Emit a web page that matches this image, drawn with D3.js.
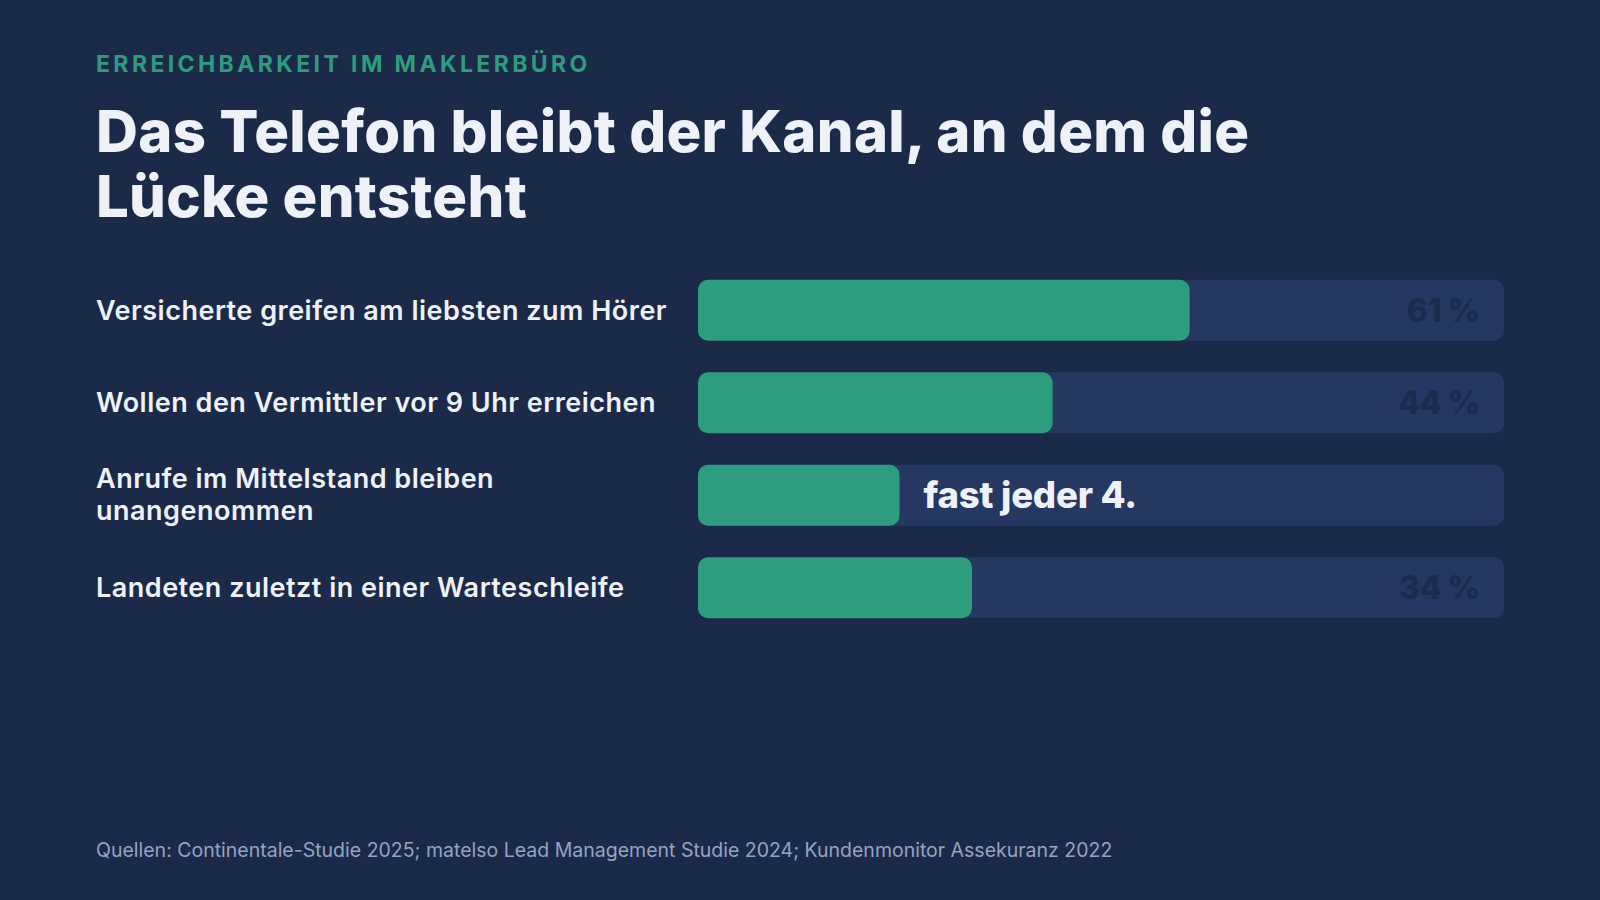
<!DOCTYPE html>
<html>
<head>
<meta charset="utf-8">
<script src="https://cdn.jsdelivr.net/npm/d3@7"></script>
<style>
  html, body { margin: 0; padding: 0; background: #1c2a4a; }
  svg { display: block; }
  text { font-family: Inter, "Noto Sans", sans-serif; }
</style>
</head>
<body>
<svg id="chart" width="1600" height="900"></svg>
<script>
// data
const labels = [
  ["Versicherte greifen am liebsten zum Hörer"],
  ["Wollen den Vermittler vor 9 Uhr erreichen"],
  ["Anrufe im Mittelstand bleiben", "unangenommen"],
  ["Landeten zuletzt in einer Warteschleife"]
];
const values = [61, 44, 25, 34];
const valueTexts = ["61 %", "44 %", "fast jeder 4.", "34 %"];
const highlight = [false, false, true, false];

const kicker = "ERREICHBARKEIT IM MAKLERBÜRO";
const titleLines = ["Das Telefon bleibt der Kanal, an dem die", "Lücke entsteht"];
const source = "Quellen: Continentale-Studie 2025; matelso Lead Management Studie 2024; Kundenmonitor Assekuranz 2022";

const green = "#2e9c7e", track = "#263761", bg = "#1c2a4a", ink = "#eef2f8";

const svg = d3.select("#chart");
svg.append("rect").attr("width", 1600).attr("height", 900).attr("fill", bg);

svg.append("text")
    .attr("x", 96).attr("y", 72)
    .attr("fill", green)
    .attr("font-size", 23).attr("font-weight", 700)
    .attr("letter-spacing", 3.4)
    .text(kicker);

svg.append("g").selectAll("text")
    .data(titleLines)
    .join("text")
    .attr("x", 96)
    .attr("y", (d, i) => 152 + i * 65)
    .attr("fill", ink)
    .attr("font-size", 58).attr("font-weight", 800)
    .attr("letter-spacing", 0.3)
    .text(d => d);

const x = d3.scaleLinear().domain([0, 100]).range([698, 1504]);
const y = d3.scaleBand().domain(d3.range(values.length)).range([264, 634]).paddingInner(0.34).paddingOuter(0.17);

const rows = svg.append("g").selectAll("g")
    .data(values)
    .join("g");

rows.append("rect")
    .attr("x", x(0)).attr("y", (d, i) => y(i))
    .attr("width", x(100) - x(0)).attr("height", y.bandwidth())
    .attr("rx", 10).attr("fill", track);

rows.append("rect")
    .attr("x", x(0)).attr("y", (d, i) => y(i))
    .attr("width", d => x(d) - x(0)).attr("height", y.bandwidth())
    .attr("rx", 10).attr("fill", green);

rows.append("text")
    .attr("x", (d, i) => highlight[i] ? x(d) + 24 : x(100) - 24)
    .attr("y", (d, i) => y(i) + y.bandwidth() / 2)
    .attr("dy", "0.36em")
    .attr("text-anchor", (d, i) => highlight[i] ? "start" : "end")
    .attr("fill", (d, i) => highlight[i] ? ink : "#1d2b4e")
    .attr("font-size", (d, i) => highlight[i] ? 36.5 : 32)
    .attr("font-weight", 800)
    .attr("letter-spacing", (d, i) => highlight[i] ? -0.2 : -0.5)
    .text((d, i) => valueTexts[i]);

rows.append("text")
    .attr("x", 96)
    .attr("y", (d, i) => y(i) + y.bandwidth() / 2 - (labels[i].length - 1) * 17)
    .attr("fill", ink)
    .attr("font-size", 27).attr("font-weight", 600)
    .attr("letter-spacing", 0.5)
    .selectAll("tspan")
    .data((d, i) => labels[i])
    .join("tspan")
    .attr("x", 96)
    .attr("dy", (d, j) => j === 0 ? "0.36em" : 32)
    .text(d => d);

svg.append("text")
    .attr("x", 96).attr("y", 857)
    .attr("fill", "#95a3c0")
    .attr("font-size", 19.5)
    .text(source);
</script>
</body>
</html>
